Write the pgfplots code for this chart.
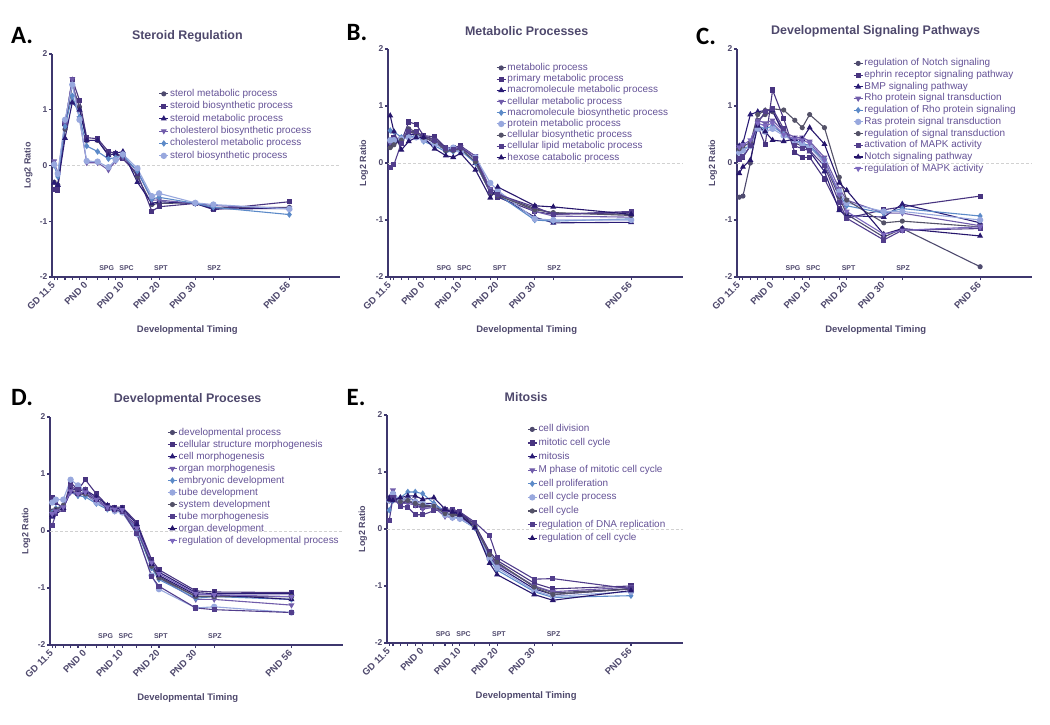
\documentclass[border=0pt]{standalone}
\usepackage{fontspec}
\setmainfont{Liberation Sans}
\newfontfamily\letterfont{Carlito}
\usepackage{pgfplots}
\usepackage{pgfplotstable}
\pgfplotsset{compat=1.18}

\definecolor{axcol}{RGB}{62,55,110}
\definecolor{ttlcol}{RGB}{78,72,108}
\definecolor{legcol}{RGB}{100,82,150}
\definecolor{sA}{RGB}{78,74,110}
\definecolor{sB}{RGB}{72,52,128}
\definecolor{sC}{RGB}{42,28,118}
\definecolor{sD}{RGB}{112,92,170}
\definecolor{sE}{RGB}{92,138,200}
\definecolor{sF}{RGB}{152,168,222}
\definecolor{sG}{RGB}{84,82,104}
\definecolor{sH}{RGB}{82,62,140}
\definecolor{sI}{RGB}{38,22,108}
\definecolor{sJ}{RGB}{124,104,190}

\pgfplotscreateplotcyclelist{gp}{
 {sA, mark=*, mark size=2bp},
 {sB, mark=square*, mark size=2bp},
 {sC, mark=triangle*, mark size=2.4bp},
 {sD, mark=triangle*, mark size=2.4bp, mark options={rotate=180}},
 {sE, mark=diamond*, mark size=2.4bp},
 {sF, mark=*, mark size=2.6bp},
 {sG, mark=*, mark size=2bp},
 {sH, mark=square*, mark size=2bp},
 {sI, mark=triangle*, mark size=2.4bp},
 {sJ, mark=triangle*, mark size=2.4bp, mark options={rotate=180}},
}

\tikzset{stage/.style={font=\fontsize{7}{8}\selectfont\bfseries, text=ttlcol}}

\pgfplotsset{
 panel/.style={
  scale only axis,
  anchor=south west,
  axis x line*=bottom, axis y line*=left,
  axis line style={axcol, line width=1.6bp},
  xmin=-9.6, xmax=70, ymin=-2, ymax=2,
  ytick={-2,-1,0,1,2},
  xtick={-9,0,10,20,30,56},
  xticklabels={GD 11.5,PND 0,PND 10,PND 20,PND 30,PND 56},
  minor xtick={-8,-6,-4,-2,3,6,8,14,18,35},
  tick align=outside, major tick length=3bp, minor tick length=3bp,
  tick style={axcol, line width=1.1bp},
  x tick label style={yshift=-3bp, rotate=45, anchor=east, inner sep=1bp,
    font=\fontsize{9.5}{10}\selectfont\bfseries, text=ttlcol},
  y tick label style={inner sep=1.5bp,
    font=\fontsize{8.5}{9}\selectfont\bfseries, text=ttlcol},
  /pgf/number format/assume math mode=true,
  extra y ticks={0}, extra y tick labels={},
  extra y tick style={grid=major, major grid style={densely dashed, black!18, line width=0.6bp}},
  cycle list name=gp,
  every axis plot/.append style={line width=1.1bp},
  legend cell align=left,
  legend image code/.code={\draw[mark repeat=2,mark phase=2] plot coordinates {(0bp,0bp)(4.5bp,0bp)(9bp,0bp)};},
  legend style={draw=none, fill=none, anchor=north west, inner sep=0bp,
    font=\fontsize{10}{11}\selectfont, text=legcol,
    nodes={inner sep=1.2bp, text height=7.5bp, text depth=2.5bp}},
  title style={at={(0.47,1)}, anchor=center, yshift=12bp,
    font=\fontsize{12.5}{13}\selectfont\bfseries, text=ttlcol},
  xlabel={Developmental Timing}, ylabel={Log2 Ratio},
  xlabel style={at={(axis description cs:0.47,0)}, anchor=center, yshift=-53bp,
    font=\fontsize{9.5}{10}\selectfont\bfseries, text=ttlcol},
  ylabel style={at={(axis description cs:-0.082,0.5)}, anchor=center,
    font=\fontsize{9}{10}\selectfont\bfseries, text=ttlcol},
 },
}
\newcommand{\stages}{%
 \node[stage] at (axis cs:5.5,-1.84) {SPG};
 \node[stage] at (axis cs:11,-1.84) {SPC};
 \node[stage] at (axis cs:20.5,-1.84) {SPT};
 \node[stage] at (axis cs:35.2,-1.84) {SPZ};
}

\pgfplotstableread{
x s1 s2 s3 s4 s5 s6
-9 -0.30 -0.43 -0.31 0.08 0.00 0.02
-8 -0.35 -0.44 -0.35 -0.15 -0.20 -0.15
-6 0.65 0.75 0.49 0.75 0.70 0.82
-4 1.45 1.55 1.13 1.55 1.25 1.45
-2 1.05 1.17 1.00 0.85 0.87 0.82
0 0.45 0.50 0.45 0.05 0.35 0.08
3 0.45 0.48 0.45 0.05 0.25 0.07
6 0.20 0.25 0.18 -0.08 0.12 -0.03
8 0.20 0.22 0.22 0.08 0.14 0.10
10 0.18 0.12 0.25 0.15 0.18 0.20
14 -0.20 -0.15 -0.30 -0.10 -0.10 -0.05
18 -0.70 -0.82 -0.68 -0.62 -0.60 -0.55
20 -0.68 -0.74 -0.65 -0.62 -0.57 -0.50
30 -0.67 -0.68 -0.68 -0.68 -0.68 -0.67
35 -0.76 -0.79 -0.78 -0.72 -0.75 -0.70
56 -0.75 -0.65 -0.77 -0.77 -0.88 -0.78
}\tabA

\pgfplotstableread{
x s1 s2 s3 s4 s5 s6 s7 s8 s9
-9 0.28 0.40 0.32 0.35 0.57 0.40 0.27 -0.08 0.83
-8 0.35 0.45 0.38 0.42 0.55 0.40 0.32 -0.03 0.55
-6 0.40 0.38 0.42 0.45 0.45 0.42 0.40 0.35 0.23
-4 0.60 0.72 0.50 0.55 0.45 0.45 0.55 0.55 0.38
-2 0.55 0.68 0.50 0.50 0.48 0.45 0.52 0.55 0.45
0 0.47 0.48 0.46 0.45 0.38 0.40 0.45 0.47 0.45
3 0.42 0.46 0.35 0.37 0.30 0.33 0.38 0.40 0.25
6 0.27 0.27 0.22 0.25 0.20 0.25 0.22 0.25 0.13
8 0.25 0.27 0.22 0.25 0.20 0.27 0.22 0.23 0.10
10 0.30 0.30 0.25 0.28 0.22 0.20 0.25 0.27 0.17
14 0.05 0.12 0.00 0.12 0.00 0.10 0.02 0.08 -0.12
18 -0.50 -0.48 -0.52 -0.45 -0.50 -0.35 -0.52 -0.50 -0.61
20 -0.55 -0.60 -0.57 -0.52 -0.55 -0.48 -0.57 -0.55 -0.42
30 -0.80 -0.85 -0.95 -0.85 -1.00 -0.98 -0.82 -0.77 -0.75
35 -0.88 -0.90 -1.05 -0.93 -1.02 -1.00 -0.87 -0.90 -0.77
56 -0.90 -0.87 -1.04 -0.95 -0.98 -1.00 -0.92 -0.85 -0.90
}\tabB

\pgfplotstableread{
x s1 s2 s3 s4 s5 s6 s7 s8 s9 s10
-9 -0.60 0.07 0.30 0.25 0.20 0.18 0.25 0.07 -0.18 0.28
-8 -0.58 0.10 0.35 0.30 0.25 0.22 0.30 0.12 -0.07 0.32
-6 0.00 0.30 0.85 0.35 0.30 0.30 0.35 0.30 0.05 0.40
-4 0.75 0.65 0.90 0.75 0.65 0.60 0.85 0.70 0.65 0.70
-2 0.85 0.32 0.92 0.70 0.60 0.55 0.92 0.90 0.55 0.65
0 0.90 1.28 0.92 0.75 0.65 0.60 0.95 0.95 0.40 0.70
3 0.55 0.78 0.50 0.55 0.50 0.48 0.93 0.60 0.38 0.50
6 0.35 0.18 0.40 0.45 0.40 0.38 0.75 0.30 0.42 0.42
8 0.30 0.10 0.35 0.45 0.35 0.33 0.62 0.25 0.42 0.40
10 0.30 0.10 0.20 0.38 0.30 0.28 0.85 0.22 0.62 0.35
14 0.00 -0.28 -0.15 0.10 0.05 0.00 0.62 -0.05 0.33 0.05
18 -0.60 -0.80 -0.83 -0.45 -0.55 -0.50 -0.25 -0.70 -0.35 -0.55
20 -0.90 -0.97 -0.92 -0.65 -0.75 -0.70 -0.65 -0.97 -0.48 -0.85
30 -1.30 -0.82 -0.95 -0.88 -0.88 -0.85 -1.05 -1.35 -1.25 -1.25
35 -1.15 -0.77 -0.72 -0.88 -0.80 -0.85 -1.02 -1.18 -1.15 -1.18
56 -1.82 -0.58 -1.05 -1.10 -0.93 -1.00 -1.12 -1.15 -1.28 -1.12
}\tabC

\pgfplotstableread{
x s1 s2 s3 s4 s5 s6 s7 s8 s9 s10
-9 0.35 0.58 0.25 0.30 0.32 0.50 0.30 0.10 0.28 0.30
-8 0.38 0.50 0.35 0.35 0.40 0.55 0.38 0.30 0.35 0.35
-6 0.42 0.40 0.40 0.40 0.45 0.55 0.45 0.38 0.40 0.42
-4 0.70 0.85 0.75 0.68 0.70 0.90 0.72 0.78 0.70 0.70
-2 0.65 0.72 0.70 0.62 0.62 0.80 0.65 0.72 0.65 0.65
0 0.68 0.90 0.72 0.65 0.60 0.70 0.65 0.72 0.68 0.68
3 0.55 0.65 0.60 0.50 0.48 0.50 0.55 0.55 0.55 0.55
6 0.42 0.45 0.45 0.40 0.38 0.40 0.42 0.40 0.43 0.42
8 0.37 0.42 0.40 0.35 0.35 0.35 0.37 0.37 0.38 0.38
10 0.35 0.42 0.40 0.33 0.35 0.33 0.35 0.35 0.37 0.37
14 0.05 0.15 0.12 0.00 0.02 -0.05 0.05 -0.05 0.07 0.05
18 -0.60 -0.50 -0.55 -0.60 -0.65 -0.78 -0.62 -0.80 -0.58 -0.55
20 -0.80 -0.68 -0.72 -0.82 -0.85 -1.02 -0.82 -0.97 -0.78 -0.75
30 -1.15 -1.05 -1.08 -1.20 -1.18 -1.35 -1.15 -1.35 -1.12 -1.10
35 -1.15 -1.07 -1.10 -1.20 -1.15 -1.33 -1.15 -1.38 -1.12 -1.12
56 -1.15 -1.08 -1.10 -1.30 -1.20 -1.43 -1.15 -1.43 -1.20 -1.15
}\tabD

\pgfplotstableread{
x s1 s2 s3 s4 s5 s6 s7 s8 s9
-9 0.50 0.50 0.55 0.50 0.33 0.50 0.52 0.15 0.52
-8 0.55 0.60 0.55 0.68 0.50 0.62 0.55 0.55 0.50
-6 0.45 0.45 0.50 0.45 0.55 0.50 0.48 0.40 0.55
-4 0.48 0.50 0.55 0.45 0.65 0.55 0.50 0.38 0.58
-2 0.45 0.42 0.50 0.42 0.65 0.48 0.45 0.25 0.58
0 0.40 0.38 0.45 0.35 0.62 0.45 0.42 0.25 0.52
3 0.38 0.40 0.45 0.38 0.45 0.40 0.40 0.32 0.55
6 0.25 0.30 0.30 0.22 0.30 0.25 0.27 0.35 0.35
8 0.25 0.32 0.30 0.20 0.22 0.20 0.25 0.35 0.30
10 0.22 0.30 0.28 0.20 0.18 0.18 0.25 0.30 0.25
14 0.05 0.08 0.05 0.05 0.02 0.03 0.05 0.12 0.02
18 -0.45 -0.40 -0.50 -0.48 -0.55 -0.52 -0.45 -0.12 -0.60
20 -0.60 -0.55 -0.65 -0.62 -0.72 -0.68 -0.58 -0.50 -0.80
30 -1.00 -0.95 -1.05 -1.00 -1.10 -1.08 -1.02 -0.88 -1.15
35 -1.12 -1.05 -1.15 -1.10 -1.20 -1.18 -1.15 -0.87 -1.25
56 -1.05 -1.00 -1.05 -1.02 -1.17 -1.10 -1.05 -1.05 -1.08
}\tabE

\begin{document}
\begin{tikzpicture}
\useasboundingbox (0,0) rectangle (1050bp,-725bp);

% A
\begin{axis}[panel, at={(52bp,-277bp)}, width=288bp, height=223bp,
  title={Steroid Regulation},
  legend style={at={(0.37,0.85)}, row sep=0bp}]
\foreach \s in {1,...,6} {\addplot table[x=x, y=s\s] {\tabA};}
\legend{sterol metabolic process, steroid biosynthetic process, steroid metabolic process,
  cholesterol biosynthetic process, cholesterol metabolic process, sterol biosynthetic process}
\stages
\end{axis}

% B
\begin{axis}[panel, at={(388bp,-277bp)}, width=295bp, height=228bp,
  title={Metabolic Processes},
  legend style={at={(0.366,0.945)}, row sep=-1.2bp}]
\foreach \s in {1,...,9} {\addplot table[x=x, y=s\s] {\tabB};}
\legend{metabolic process, primary metabolic process, macromolecule metabolic process,
  cellular metabolic process, macromolecule biosynthetic process, protein metabolic process,
  cellular biosynthetic process, cellular lipid metabolic process, hexose catabolic process}
\stages
\end{axis}

% C
\begin{axis}[panel, at={(737bp,-277bp)}, width=295bp, height=228bp,
  title={Developmental Signaling Pathways},
  legend style={at={(0.393,0.965)}, row sep=-0.7bp}]
\foreach \s in {1,...,10} {\addplot table[x=x, y=s\s] {\tabC};}
\legend{regulation of Notch signaling, ephrin receptor signaling pathway, BMP signaling pathway,
  Rho protein signal transduction, regulation of Rho protein signaling, Ras protein signal transduction,
  regulation of signal transduction, activation of MAPK activity, Notch signaling pathway,
  regulation of MAPK activity}
\stages
\end{axis}

% D
\begin{axis}[panel, at={(50bp,-645bp)}, width=293bp, height=228bp,
  title={Developmental Proceses},
  legend style={at={(0.40,0.96)}, row sep=-0.4bp}]
\foreach \s in {1,...,10} {\addplot table[x=x, y=s\s] {\tabD};}
\legend{developmental process, cellular structure morphogenesis, cell morphogenesis,
  organ morphogenesis, embryonic development, tube development, system development,
  tube morphogenesis, organ development, regulation of developmental process}
\stages
\end{axis}

% E
\begin{axis}[panel, at={(387bp,-643bp)}, width=296bp, height=228bp,
  title={Mitosis},
  legend style={at={(0.473,0.965)}, row sep=1.2bp}]
\foreach \s in {1,...,9} {\addplot table[x=x, y=s\s] {\tabE};}
\legend{cell division, mitotic cell cycle, mitosis, M phase of mitotic cell cycle,
  cell proliferation, cell cycle process, cell cycle, regulation of DNA replication,
  regulation of cell cycle}
\stages
\end{axis}

\foreach \lbl/\px/\py in {A./22/36, B./357/33, C./706/36, D./22/398, E./356/398}
  \node[font=\letterfont\fontsize{25}{25}\selectfont\bfseries] at (\px bp,-\py bp) {\lbl};
\end{tikzpicture}
\end{document}
